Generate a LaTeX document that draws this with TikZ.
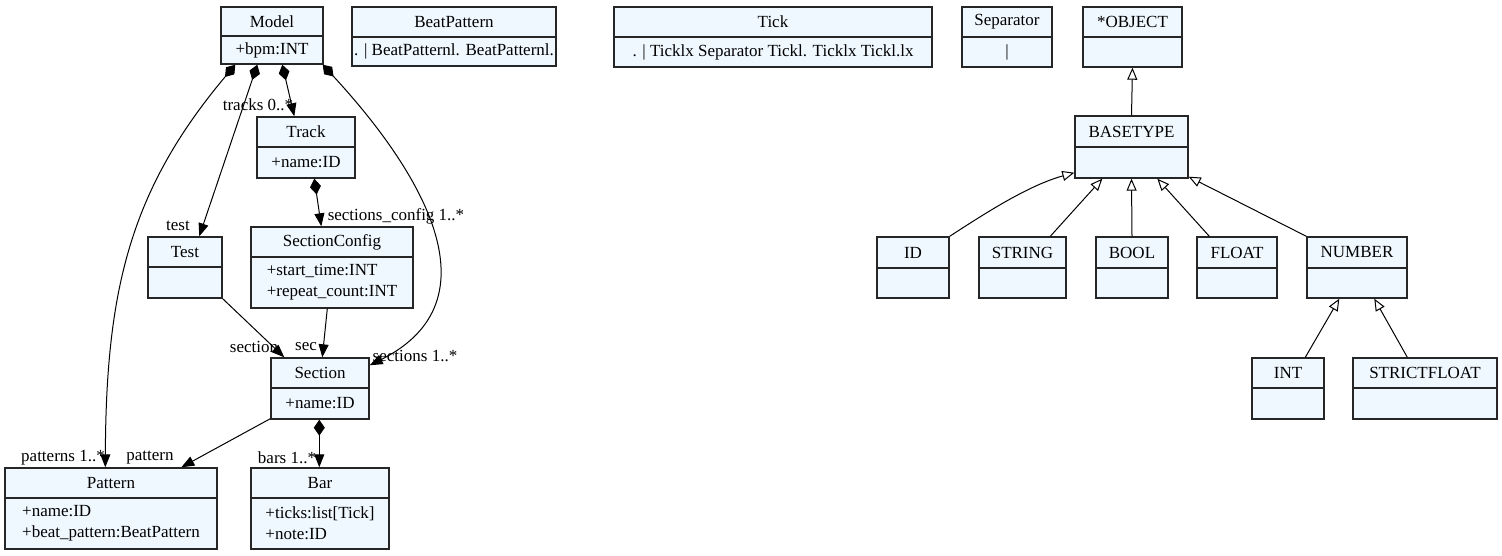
\documentclass[tikz,border=0pt]{standalone}
\usepackage{fontspec}
\setmainfont{Liberation Serif}
\usetikzlibrary{fit,arrows.meta}
\definecolor{clsfill}{HTML}{F0F8FF}
\tikzset{
  every node/.style={font=\fontsize{17}{21}\selectfont, inner sep=0pt},
  clsbox/.style={draw=black!85, fill=clsfill, line width=1.4pt, inner sep=0pt},
  clsline/.style={draw=black!85, line width=1.4pt},
  clstitle/.style={anchor=center},
  clsbody/.style={anchor=center, align=left},
  edge/.style={line width=1pt},
  comp/.style={edge, {Diamond[length=16pt,width=11pt]}-{Triangle[length=13pt,width=10pt]}},
  assoc/.style={edge, -{Triangle[length=13pt,width=10pt]}},
  inh/.style={edge, -{Triangle[open,length=12pt,width=10pt,fill=white]}},
  lbl/.style={anchor=center}
}
\newcommand{\umlcls}[8]{%
  \node[clsbox, fit={(#2,#3) (#4,#6)}] (#1) {};
  \draw[clsline] (#2,#5) -- (#4,#5);
  \node[clstitle] (#1-t) at ({(#2+#4)/2},{(#3+#5)/2}) {#7};
  \node[clsbody] (#1-b) at ({(#2+#4)/2},{(#5+#6)/2}) {#8};
}
\begin{document}
\begin{tikzpicture}[x=1pt,y=-1pt]
\useasboundingbox (0,0) rectangle (1502,556);
% classes
\umlcls{Model}{221}{7}{323}{36}{64}{Model}{+bpm:INT}
\umlcls{BeatPattern}{352}{7}{556}{37}{66}{BeatPattern}{. | BeatPatternl. BeatPatternl.}
\umlcls{Tick}{614}{7}{932}{37}{67}{Tick}{. | Ticklx Separator Tickl. Ticklx Tickl.lx}
\umlcls{Separator}{962}{7}{1052}{37}{67}{Separator}{|}
\umlcls{obj}{1083}{7}{1182}{37}{67}{*OBJECT}{}
\umlcls{Track}{257}{117}{355}{147}{178}{Track}{+name:ID}
\umlcls{Test}{148}{237}{222}{267}{298}{Test}{}
\umlcls{SectionConfig}{251}{227}{413}{257}{308}{SectionConfig}{+start\_time:INT\\+repeat\_count:INT}
\umlcls{Section}{271}{358}{369}{388}{419}{Section}{+name:ID}
\umlcls{Pattern}{5}{468}{217}{498}{549}{Pattern}{+name:ID\\+beat\_pattern:BeatPattern}
\umlcls{Bar}{251}{468}{389}{498}{549}{Bar}{+ticks:list[Tick]\\+note:ID}
\umlcls{BASETYPE}{1075}{116}{1188}{147}{178}{BASETYPE}{}
\umlcls{ID}{877}{237}{949}{268}{298}{ID}{}
\umlcls{STRING}{979}{237}{1066}{268}{298}{STRING}{}
\umlcls{BOOL}{1096}{237}{1168}{268}{298}{BOOL}{}
\umlcls{FLOAT}{1197}{237}{1277}{268}{298}{FLOAT}{}
\umlcls{NUMBER}{1307}{237}{1407}{268}{298}{NUMBER}{}
\umlcls{INT}{1252}{358}{1324}{388}{419}{INT}{}
\umlcls{STRICTFLOAT}{1353}{358}{1497}{388}{419}{STRICTFLOAT}{}
% composition / association edges
\draw[comp] ([xshift=15pt]Model.south west) .. controls (130,190) and (106,290) .. ([xshift=101pt]Pattern.north west);
\draw[comp] ([xshift=37pt]Model.south west) -- ([xshift=52pt]Test.north west);
\draw[comp] ([xshift=62pt]Model.south west) -- ([xshift=38pt]Track.north west);
\draw[comp] ([xshift=-1pt]Model.south east) .. controls (420,170) and (500,300) .. ([yshift=-8pt]Section.north east);
\draw[comp] ([xshift=58pt]Track.south west) -- ([xshift=71pt]SectionConfig.north west);
\draw[assoc] (Test.south east) -- ([xshift=14pt]Section.north west);
\draw[assoc] ([xshift=77pt]SectionConfig.south west) -- ([xshift=52pt]Section.north west);
\draw[assoc] ([yshift=1pt]Section.south west) -- ([xshift=177pt]Pattern.north west);
\draw[comp] ([xshift=49pt]Section.south west) -- ([xshift=69pt]Bar.north west);
% labels
\node[lbl] (l1) at (63,458) {patterns 1..*};
\node[lbl] (l2) at (150,458) {pattern};
\node[lbl] (l3) at (287,458) {bars 1..*};
\node[lbl] (l4) at (178,226) {test};
\node[lbl] (l5) at (258,105) {tracks 0..*};
\node[lbl] (l6) at (396,216) {sections\_config 1..*};
\node[lbl] (l7) at (254,347) {section};
\node[lbl] (l8) at (306,347) {sec};
\node[lbl] (l9) at (415,356) {sections 1..*};
% inheritance
\draw[inh] (BASETYPE.north) -- (obj.south);
\draw[inh] (ID.north east) .. controls (990,210) and (1030,185) .. ([yshift=6pt]BASETYPE.south west);
\draw[inh] ([xshift=72pt]STRING.north west) -- ([xshift=28pt]BASETYPE.south west);
\draw[inh] (BOOL.north) -- (BASETYPE.south);
\draw[inh] ([xshift=13pt]FLOAT.north west) -- ([xshift=83pt]BASETYPE.south west);
\draw[inh] (NUMBER.north west) -- ([yshift=2pt]BASETYPE.south east);
\draw[inh] ([xshift=54pt]INT.north west) -- ([xshift=33pt]NUMBER.south west);
\draw[inh] ([xshift=55pt]STRICTFLOAT.north west) -- ([xshift=68pt]NUMBER.south west);
\end{tikzpicture}
\end{document}
